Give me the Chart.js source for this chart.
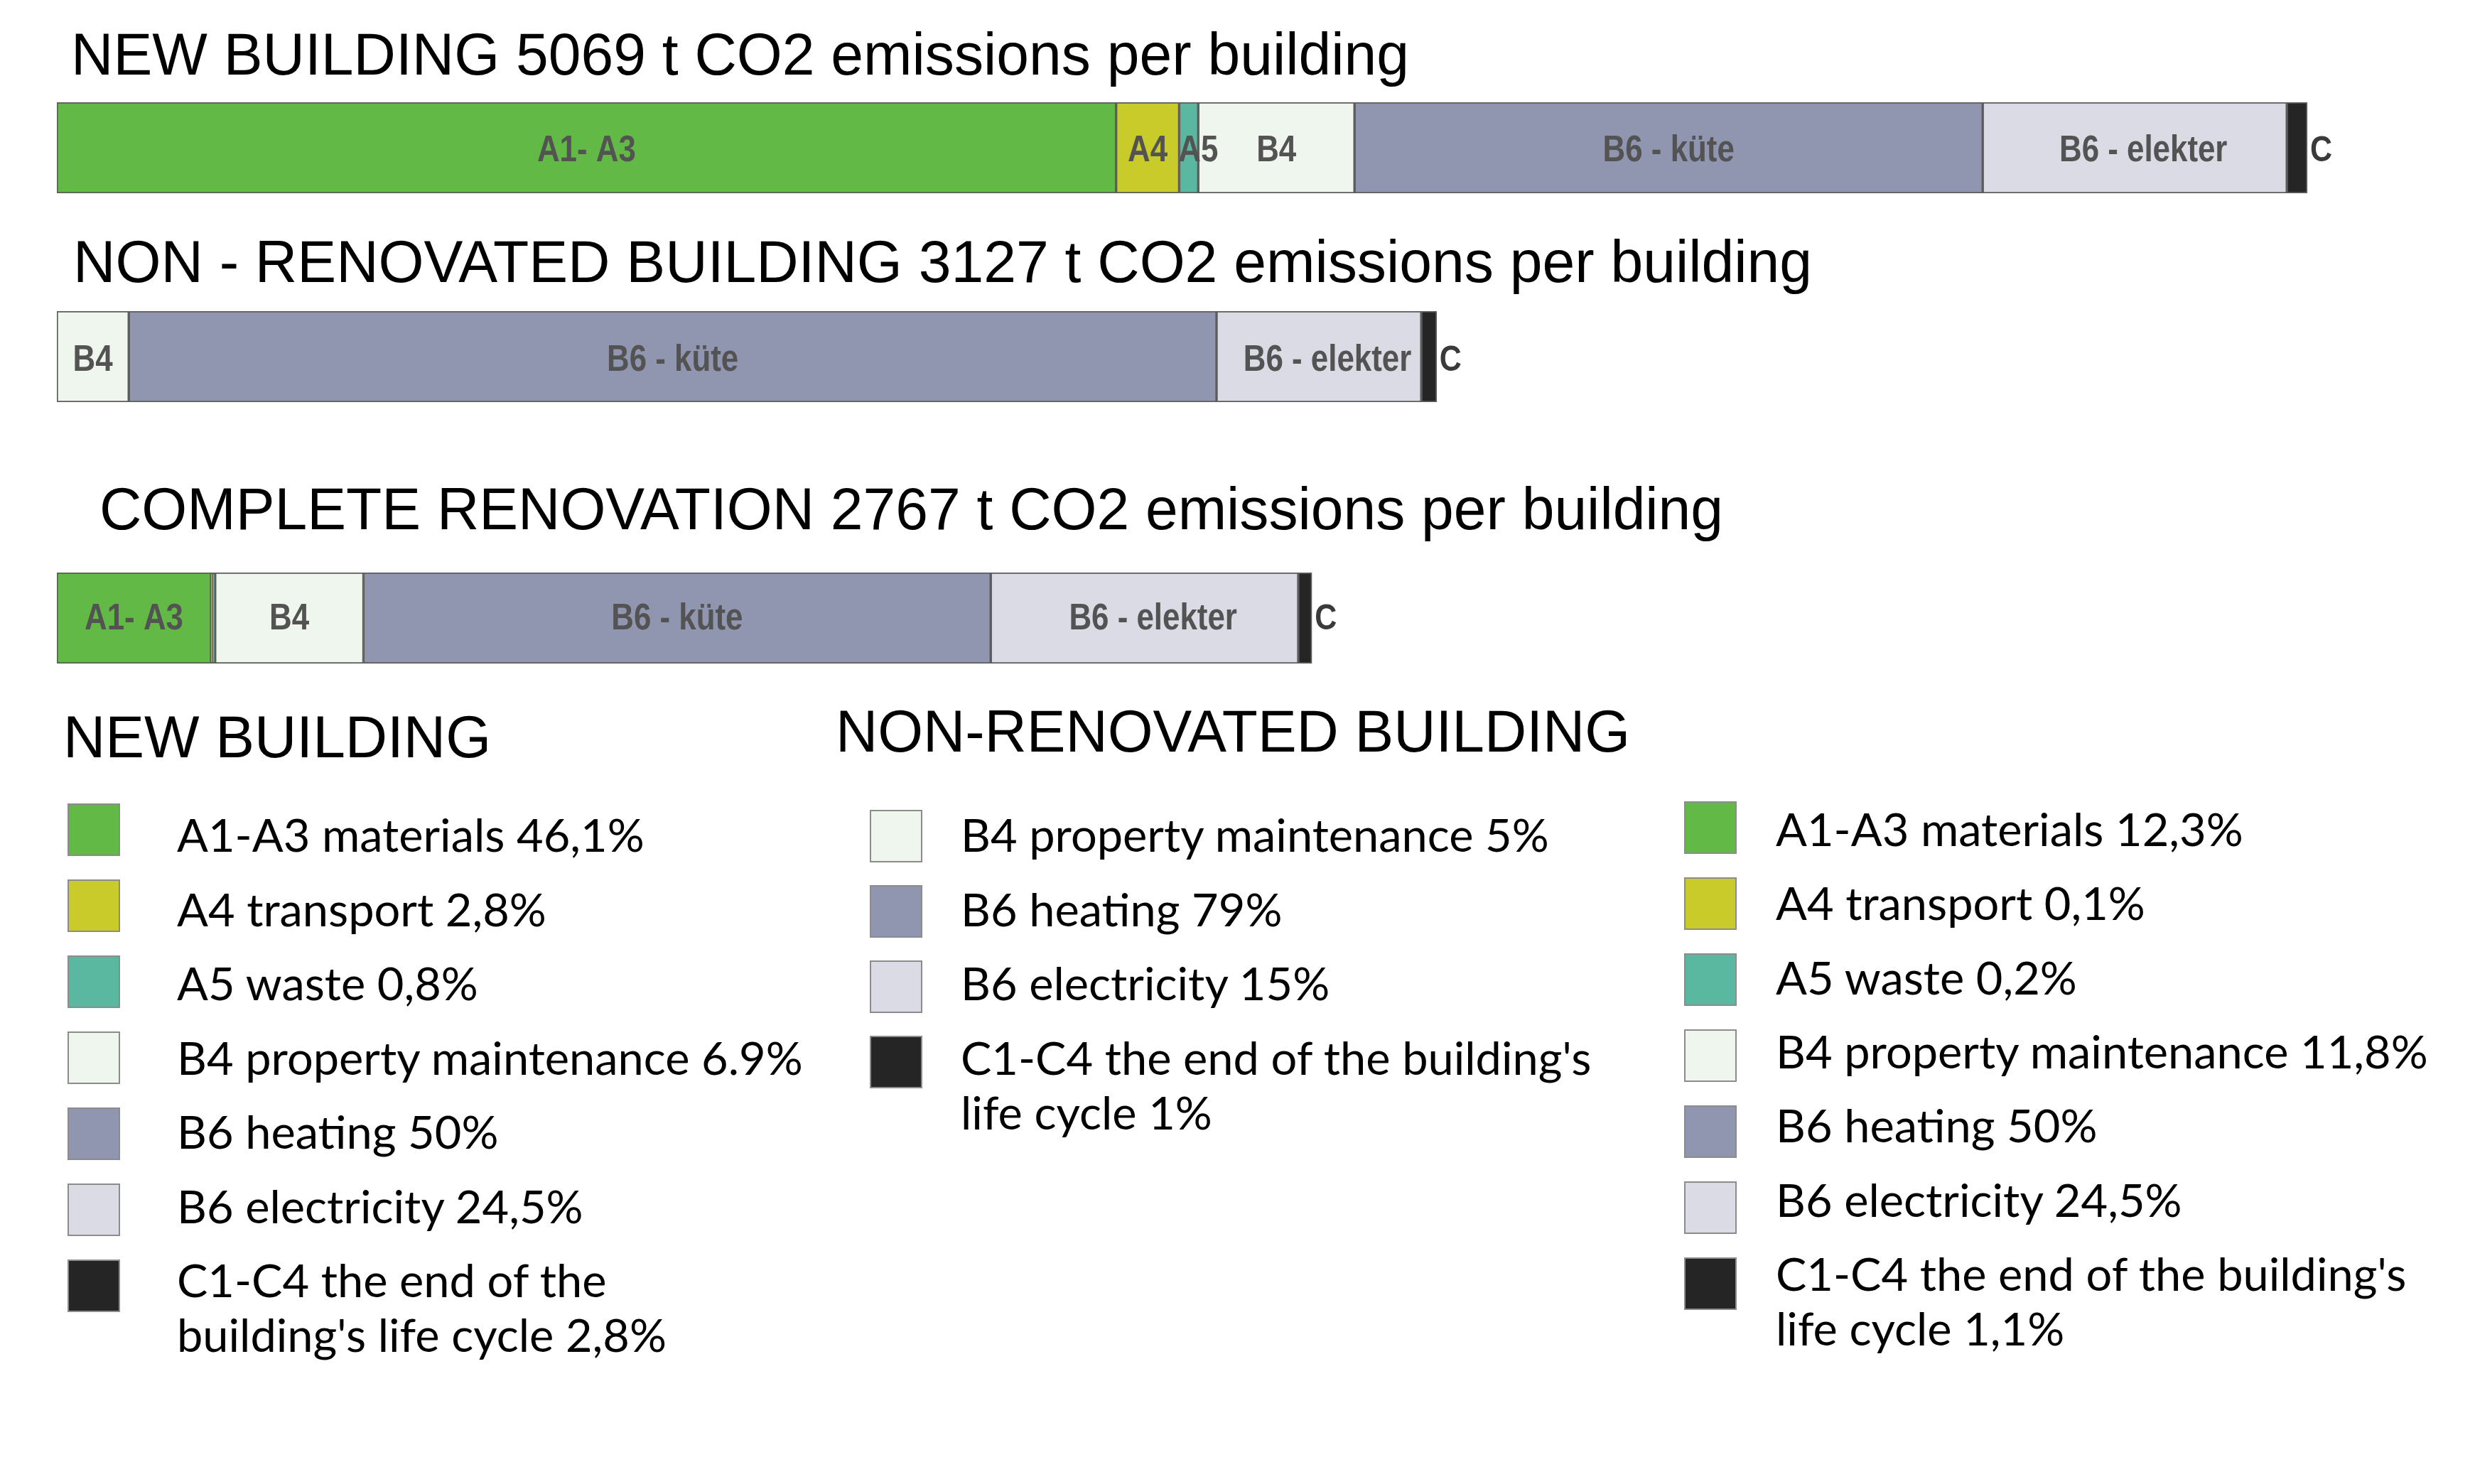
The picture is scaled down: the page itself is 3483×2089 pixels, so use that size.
<!DOCTYPE html>
<html>
<head>
<meta charset="utf-8">
<script src="https://cdn.jsdelivr.net/npm/chart.js@4.4.0/dist/chart.umd.min.js"></script>
<style>
  html, body { margin: 0; padding: 0; background: #fff; }
  body { width: 3483px; height: 2089px; position: relative; overflow: hidden; }
  .t { position: absolute; top: 0; white-space: pre; color: #000; transform-origin: 0 0; }
  .title { font-family: "Liberation Sans", Arial, sans-serif; font-size: 84px; line-height: 84px; }
  .lg { font-family: Lato, sans-serif; font-size: 63px; line-height: 77px; }
  .mk { display: inline-block; width: 0; height: 0; }
  .box { position: absolute; width: 74px; height: 74px; box-sizing: border-box; border: 2px solid #8c8c8c; }
  .bar { position: absolute; left: 80px; width: 3300px; height: 128px; }
</style>
</head>
<body>
<div class="bar" style="top:144px"><canvas id="bar_new"></canvas></div>
<div class="bar" style="top:438px"><canvas id="bar_non"></canvas></div>
<div class="bar" style="top:806px"><canvas id="bar_full"></canvas></div>

<script>
// DATA (t CO2 per building)
const segments = ["A1-A3", "A4", "A5", "B4", "B6 heating", "B6 electricity", "C1-C4"];
const segment_colors = ["#63b946", "#c9cb2b", "#5bb8a0", "#eff6ee", "#9196b0", "#dadbe4", "#252525"];

const new_building = [2386, 142, 43, 352, 1415, 685, 46];
const non_renovated = [null, null, null, 163, 2465, 464, 35];
const complete_renovation = [340, 3, 6, 327, 1383, 678, 30];

const new_labels = ["A1- A3", "A4", "A5", "B4", "B6 - küte", "B6 - elekter", "C"];
const non_labels = ["", "", "", "B4", "B6 - küte", "B6 - elekter", "C"];
const full_labels = ["A1- A3", "", "", "B4", "B6 - küte", "B6 - elekter", "C"];

const titles = [
  "NEW BUILDING 5069 t CO2 emissions per building",
  "NON - RENOVATED BUILDING 3127 t CO2 emissions per building",
  "COMPLETE RENOVATION 2767 t CO2 emissions per building"
];
const legend_headers = ["NEW BUILDING", "NON-RENOVATED BUILDING"];

const legend_new = [
  "A1-A3 materials 46,1%",
  "A4 transport 2,8%",
  "A5 waste 0,8%",
  "B4 property maintenance 6.9%",
  "B6 heating 50%",
  "B6 electricity 24,5%",
  "C1-C4 the end of the\nbuilding's life cycle 2,8%"
];
const legend_non = [
  "B4 property maintenance 5%",
  "B6 heating 79%",
  "B6 electricity 15%",
  "C1-C4 the end of the building's\nlife cycle 1%"
];
const legend_full = [
  "A1-A3 materials 12,3%",
  "A4 transport 0,1%",
  "A5 waste 0,2%",
  "B4 property maintenance 11,8%",
  "B6 heating 50%",
  "B6 electricity 24,5%",
  "C1-C4 the end of the building's\nlife cycle 1,1%"
];
// which segment colour each legend row uses
const legend_non_segments = [3, 4, 5, 6];

// each bar in the original has its own slightly different scale
const axis_max = { bar_new: 5282, bar_non: 5314, bar_full: 5170 };

// LABELS INSIDE THE BARS
const segmentLabels = {
  id: "segmentLabels",
  afterDatasetsDraw(chart, args, opts) {
    const ctx = chart.ctx;
    chart.data.datasets.forEach((ds, i) => {
      const text = opts.labels[i];
      if (!text || ds.data[0] == null) return;
      const bar = chart.getDatasetMeta(i).data[0];
      const left = Math.min(bar.x, bar.base);
      const right = Math.max(bar.x, bar.base);
      let x = (left + right) / 2;
      ctx.save();
      ctx.textBaseline = "middle";
      ctx.textAlign = "center";
      ctx.font = 'bold 51px "Liberation Sans", Arial, sans-serif';
      ctx.fillStyle = "#535353";
      if (text === "C") {
        x = right + 4;
        ctx.textAlign = "left";
        ctx.font = 'bold 50px "Liberation Sans", Arial, sans-serif';
        ctx.fillStyle = "#3a3a3a";
      } else if (text === "A5") {
        x = right;
      } else if (text === "B6 - elekter") {
        x += 12;
      }
      ctx.translate(x, bar.y + opts.dy);
      ctx.scale(0.86, 1);
      ctx.fillText(text, 0, 0);
      ctx.restore();
    });
  }
};

function drawBar(id, values, labels, dy) {
  const datasets = segments.map((name, i) => ({
    label: name,
    data: [values[i]],
    backgroundColor: segment_colors[i],
    borderColor: "#5c5c5c",
    borderWidth: 2,
    borderSkipped: false
  }));
  return new Chart(document.getElementById(id), {
    type: "bar",
    data: { labels: [""], datasets: datasets },
    options: {
      indexAxis: "y",
      responsive: true,
      maintainAspectRatio: false,
      animation: false,
      layout: { padding: 0 },
      datasets: { bar: { barPercentage: 1, categoryPercentage: 1 } },
      scales: {
        x: { stacked: true, min: 0, max: axis_max[id], display: false },
        y: { stacked: true, display: false }
      },
      plugins: {
        legend: { display: false },
        tooltip: { enabled: false },
        segmentLabels: { labels: labels, dy: dy }
      }
    },
    plugins: [segmentLabels]
  });
}

drawBar("bar_new", new_building, new_labels, 5);
drawBar("bar_non", non_renovated, non_labels, 6);
drawBar("bar_full", complete_renovation, full_labels, 2);

// TEXT
function addText(cls, text, x, baseline) {
  const el = document.createElement("div");
  el.className = "t " + cls;
  el.style.left = x + "px";
  el.innerHTML = '<span class="mk"></span><span class="tx"></span>';
  el.querySelector(".tx").textContent = text;
  document.body.appendChild(el);
  const top = el.querySelector(".mk").getBoundingClientRect().top;
  el.style.top = (baseline - top) + "px";
  return el;
}

function textWidth(el) {
  return el.querySelector(".tx").getBoundingClientRect().width;
}

function squeeze(el, width) {
  el.style.transform = `scaleX(${width / textWidth(el)})`;
}

squeeze(addText("title", titles[0], 100, 105), 1883);
squeeze(addText("title", titles[1], 103, 397), 2447);
squeeze(addText("title", titles[2], 140, 745), 2285);
squeeze(addText("title", legend_headers[0], 89, 1066), 602);
squeeze(addText("title", legend_headers[1], 1176, 1058), 1118);

function addBox(x, y, color) {
  const b = document.createElement("div");
  b.className = "box";
  b.style.left = x + "px";
  b.style.top = y + "px";
  b.style.background = color;
  document.body.appendChild(b);
}

const legendEls = [];
legend_new.forEach((txt, i) => {
  addBox(95, 1131 + i * 107, segment_colors[i]);
  legendEls.push(addText("lg", txt, 249, 1199 + i * 104.5));
});
legend_non.forEach((txt, i) => {
  addBox(1224, 1140 + i * 106, segment_colors[legend_non_segments[i]]);
  legendEls.push(addText("lg", txt, 1352, 1199 + i * 104.5));
});
legend_full.forEach((txt, i) => {
  addBox(2370, 1128 + i * 107, segment_colors[i]);
  legendEls.push(addText("lg", txt, 2499, 1191 + i * 104.3));
});

// one horizontal squeeze for all legend lines, averaged from a short and a long line
const k = (650 / textWidth(legendEls[0]) + 891 / textWidth(legendEls[3])) / 2;
legendEls.forEach(el => { el.style.transform = `scaleX(${k})`; });
</script>
</body>
</html>
